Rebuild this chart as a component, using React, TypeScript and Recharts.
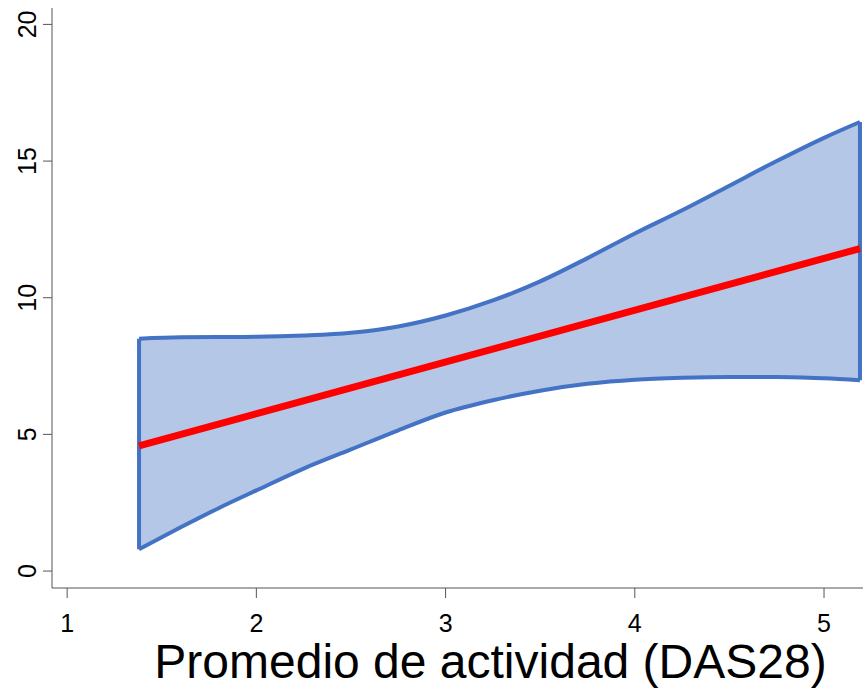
import React from 'react';
import {
  ComposedChart, Area, Line, XAxis, YAxis, ReferenceLine
} from 'recharts';

// DAS28 values where the confidence band is evaluated
const das28 = [1.38, 1.6, 1.8, 2.0, 2.25, 2.5, 2.75, 3.0, 3.25, 3.5, 3.75, 4.0, 4.25, 4.5, 4.75, 5.0, 5.19];
const upperCI = [8.5, 8.55, 8.56, 8.57, 8.62, 8.72, 8.95, 9.35, 9.9, 10.6, 11.45, 12.35, 13.2, 14.1, 15.0, 15.85, 16.43];
const lowerCI = [0.8, 1.6, 2.3, 2.95, 3.75, 4.45, 5.15, 5.8, 6.25, 6.6, 6.85, 7.0, 7.07, 7.1, 7.1, 7.05, 6.98];

// fitted line endpoints
const fitX = [1.38, 5.19];
const fitY = [4.58, 11.8];

const xTicks = [1, 2, 3, 4, 5];
const yTicks = [0, 5, 10, 15, 20];

const bandData = das28.map((x, i) => ({ x, band: [lowerCI[i], upperCI[i]] }));
const fitData = fitX.map((x, i) => ({ x, fit: fitY[i] }));

const FONT = 'Arial, "Liberation Sans", Helvetica, sans-serif';
const BLUE = '#4472C4';
const last = das28.length - 1;

const YTick = ({ x, y, payload }: any) => (
  <text
    transform={`translate(${x - 16},${y}) rotate(-90)`}
    textAnchor="middle"
    dy="0.36em"
    fontSize={25}
    fontFamily={FONT}
    fill="#000"
  >
    {payload.value}
  </text>
);

const XTick = ({ x, y, payload }: any) => (
  <text x={x} y={y + 34} textAnchor="middle" fontSize={25} fontFamily={FONT} fill="#000">
    {payload.value}
  </text>
);

export default function App() {
  return (
    <div style={{ position: 'absolute', left: 0, top: 0, background: '#fff' }}>
      <ComposedChart
        width={863}
        height={689}
        data={bandData}
        margin={{ top: 8, right: 0, bottom: 0, left: 0 }}
      >
        <XAxis
          dataKey="x"
          type="number"
          domain={[0.92, 5.206]}
          allowDataOverflow
          ticks={xTicks}
          tick={<XTick />}
          tickSize={10}
          tickMargin={0}
          stroke="#555"
          height={101}
          label={{
            value: 'Promedio de actividad (DAS28)',
            position: 'insideBottom',
            offset: 11,
            dx: 33,
            fontSize: 48,
            fontFamily: FONT,
            fill: '#000',
          }}
        />
        <YAxis
          type="number"
          domain={[-0.62, 20.6]}
          allowDataOverflow
          ticks={yTicks}
          tick={<YTick />}
          tickSize={9}
          tickMargin={0}
          stroke="#555"
          width={52}
        />
        <Area
          dataKey="band"
          type="monotone"
          fill="#B4C7E7"
          fillOpacity={1}
          stroke={BLUE}
          strokeWidth={4}
          isAnimationActive={false}
        />
        <ReferenceLine
          segment={[{ x: das28[0], y: lowerCI[0] }, { x: das28[0], y: upperCI[0] }]}
          stroke={BLUE}
          strokeWidth={4}
        />
        <ReferenceLine
          segment={[{ x: das28[last], y: lowerCI[last] }, { x: das28[last], y: upperCI[last] }]}
          stroke={BLUE}
          strokeWidth={4}
        />
        <Line
          data={fitData}
          dataKey="fit"
          type="linear"
          stroke="#FF0000"
          strokeWidth={7}
          dot={false}
          activeDot={false}
          isAnimationActive={false}
        />
      </ComposedChart>
    </div>
  );
}
